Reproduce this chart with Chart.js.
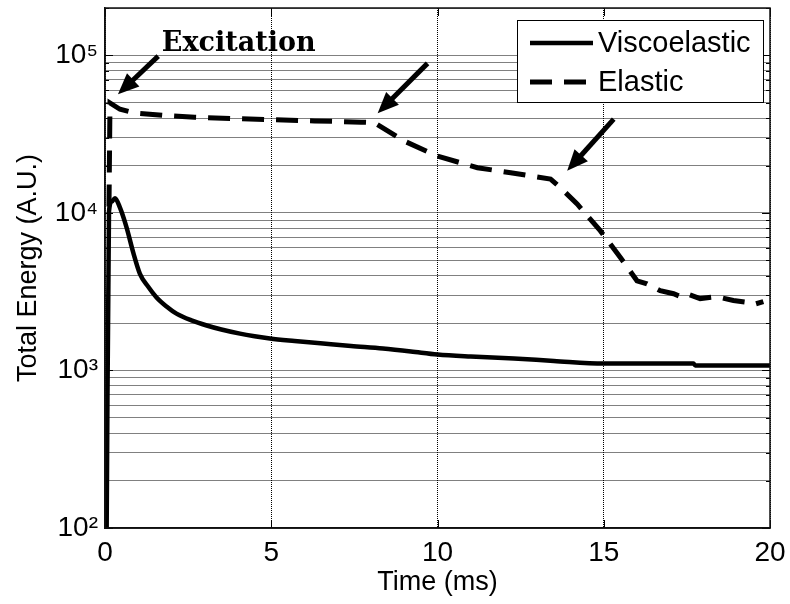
<!DOCTYPE html>
<html>
<head>
<meta charset="utf-8">
<title>Total Energy</title>
<script src="https://cdn.jsdelivr.net/npm/chart.js@4.4.1/dist/chart.umd.min.js"></script>
<style>
    html, body { margin: 0; padding: 0; background: #fff; }
</style>
</head>
<body>
<canvas id="energyChart" width="790" height="604"></canvas>
<script>
// values (time in ms, energy in arbitrary units)
const viscoTime = [0.05, 0.12, 0.2, 0.3, 0.45, 0.65, 0.85, 1.05, 1.3, 1.55, 1.85, 2.15, 2.6, 3.06, 3.5, 4.06, 4.5, 4.96, 5.7, 6.56, 7.4, 8.36, 9.2, 10, 11, 12.3, 13.5, 15, 16.5, 17.7, 17.75, 20];
const viscoEnergy = [100, 10200, 11800, 12400, 10800, 8070, 5600, 4110, 3400, 2910, 2550, 2296, 2080, 1930, 1820, 1713, 1650, 1597, 1540, 1483, 1430, 1377, 1320, 1262, 1225, 1191, 1150, 1107, 1107, 1107, 1076, 1076];

const elasticTime = [0.12, 0.15, 0.45, 0.9, 1.8, 2.7, 3.8, 4.9, 6.3, 7.7, 8.1, 9.0, 10.0, 11.2, 12.2, 13.4, 13.7, 14.2, 14.9, 15.5, 16.0, 16.3, 16.7, 17.1, 17.3, 17.5, 17.9, 18.4, 18.9, 19.3, 19.5, 19.8];
const elasticEnergy = [11000, 49900, 45500, 43100, 41500, 40500, 39800, 39200, 38400, 37700, 37400, 28600, 22960, 19370, 18000, 16400, 14450, 11400, 7690, 5210, 3710, 3550, 3210, 3070, 2950, 3070, 2860, 2940, 2780, 2710, 2620, 2740];

const seriesNames = ["Viscoelastic", "Elastic"];

const xTicks = [0, 5, 10, 15, 20];
const yDecades = [100, 1000, 10000, 100000];
const yDecadeLabels = ["10²", "10³", "10⁴", "10⁵"];
const yMin = 100;
const yMax = 200000;

// annotation arrows, in data space: [time, energy]
const arrowTails = [[1.6, 99000], [9.7, 89000], [15.3, 39400]];
const arrowTips = [[0.39, 56600], [8.2, 43000], [13.9, 18500]];
const excitationText = "Excitation";
const excitationAt = [1.71, 106000];

const FONT = "'Liberation Sans', Arial, sans-serif";

// every 1..9 x 10^k line, like the matlab log grid
const yGrid = [];
yDecades.forEach(d => {
    for (let m = 1; m <= 9; m++) {
        if (m * d <= yMax) yGrid.push(m * d);
    }
});
if (yGrid[yGrid.length - 1] < yMax) yGrid.push(yMax);

function toPoints(xs, ys) {
    return xs.map((x, i) => ({ x: x, y: ys[i] }));
}

const frameAndMarks = {
    id: "frameAndMarks",
    beforeDatasetsDraw(chart) {
        const { ctx, chartArea: a, scales } = chart;
        ctx.save();
        ctx.strokeStyle = "#000";
        ctx.lineWidth = 1;
        ctx.beginPath();
        yGrid.forEach(v => {
            const y = Math.round(scales.y.getPixelForValue(v)) + 0.5;
            const len = yDecades.includes(v) ? 8 : 4;
            ctx.moveTo(a.left, y); ctx.lineTo(a.left + len, y);
            ctx.moveTo(a.right, y); ctx.lineTo(a.right - len, y);
        });
        xTicks.forEach(v => {
            const x = Math.round(scales.x.getPixelForValue(v)) + 0.5;
            ctx.moveTo(x, a.bottom); ctx.lineTo(x, a.bottom - 8);
            ctx.moveTo(x, a.top); ctx.lineTo(x, a.top + 8);
        });
        ctx.stroke();
        ctx.restore();
    },
    afterDatasetsDraw(chart) {
        const { ctx, chartArea: a, scales } = chart;
        ctx.save();

        // arrows
        ctx.fillStyle = "#000";
        ctx.strokeStyle = "#000";
        ctx.lineWidth = 5;
        ctx.lineCap = "butt";
        arrowTails.forEach((t, i) => {
            const x0 = scales.x.getPixelForValue(t[0]);
            const y0 = scales.y.getPixelForValue(t[1]);
            const x1 = scales.x.getPixelForValue(arrowTips[i][0]);
            const y1 = scales.y.getPixelForValue(arrowTips[i][1]);
            const ang = Math.atan2(y1 - y0, x1 - x0);
            const head = 21, half = 9;
            const bx = x1 - head * Math.cos(ang);
            const by = y1 - head * Math.sin(ang);
            ctx.beginPath();
            ctx.moveTo(x0, y0);
            ctx.lineTo(bx + 2 * Math.cos(ang), by + 2 * Math.sin(ang));
            ctx.stroke();
            ctx.beginPath();
            ctx.moveTo(x1, y1);
            ctx.lineTo(bx + half * Math.sin(ang), by - half * Math.cos(ang));
            ctx.lineTo(bx - half * Math.sin(ang), by + half * Math.cos(ang));
            ctx.closePath();
            ctx.fill();
        });

        ctx.font = "bold 27px 'DejaVu Serif', 'Liberation Serif', serif";
        ctx.textAlign = "left";
        ctx.textBaseline = "alphabetic";
        ctx.fillText(excitationText,
            scales.x.getPixelForValue(excitationAt[0]),
            scales.y.getPixelForValue(excitationAt[1]));

        // legend box
        const bw = 246, bh = 82;
        const bx = a.right - 7 - bw, by = a.top + 12;
        ctx.fillStyle = "#fff";
        ctx.fillRect(bx, by, bw, bh);
        ctx.strokeStyle = "#000";
        ctx.lineWidth = 1;
        ctx.strokeRect(bx + 0.5, by + 0.5, bw, bh);
        ctx.font = "29px " + FONT;
        ctx.textBaseline = "middle";
        chart.data.datasets.forEach((ds, i) => {
            const ly = by + 23 + i * 39;
            ctx.save();
            ctx.strokeStyle = ds.borderColor;
            ctx.lineWidth = ds.borderWidth;
            ctx.setLineDash(ds.borderDash || []);
            ctx.beginPath();
            ctx.moveTo(bx + 13, ly);
            ctx.lineTo(bx + 76, ly);
            ctx.stroke();
            ctx.restore();
            ctx.fillStyle = "#000";
            ctx.fillText(ds.label, bx + 81, ly + 1);
        });

        // axes box
        ctx.strokeStyle = "#111";
        ctx.lineWidth = 1.5;
        ctx.strokeRect(a.left, a.top, a.right - a.left, a.bottom - a.top);
        ctx.restore();
    }
};

const chart = new Chart(document.getElementById("energyChart"), {
    type: "line",
    data: {
        datasets: [{
            label: seriesNames[0],
            data: toPoints(viscoTime, viscoEnergy),
            borderColor: "#000",
            borderWidth: 4.5,
            pointRadius: 0,
            cubicInterpolationMode: "monotone",
            fill: false
        }, {
            label: seriesNames[1],
            data: toPoints(elasticTime, elasticEnergy),
            borderColor: "#000",
            borderWidth: 5,
            borderDash: [22, 12],
            pointRadius: 0,
            tension: 0,
            fill: false
        }]
    },
    options: {
        responsive: false,
        animation: false,
        devicePixelRatio: 1,
        layout: { padding: { top: 8, right: 20, left: 0, bottom: 0 } },
        plugins: {
            legend: { display: false },
            tooltip: { enabled: false }
        },
        scales: {
            x: {
                type: "linear",
                min: 0,
                max: 20,
                afterBuildTicks: (scale) => { scale.ticks = xTicks.map(v => ({ value: v })); },
                afterFit: (scale) => {
                    scale.height = 76;
                    scale.paddingLeft = 0;
                    scale.paddingRight = 0;
                },
                grid: {
                    color: "#000",
                    lineWidth: 1,
                    drawTicks: false,
                    tickLength: 0
                },
                border: { display: true, color: "#111", width: 1.5, dash: [1, 1] },
                ticks: {
                    color: "#000",
                    padding: 8,
                    maxRotation: 0,
                    font: { family: FONT, size: 28 }
                },
                title: {
                    display: true,
                    text: "Time (ms)",
                    color: "#000",
                    font: { family: FONT, size: 27 },
                    padding: { top: 0, bottom: 5 }
                }
            },
            y: {
                type: "logarithmic",
                min: yMin,
                max: yMax,
                afterBuildTicks: (scale) => { scale.ticks = yGrid.map(v => ({ value: v })); },
                afterFit: (scale) => {
                    scale.width = 105;
                    scale.paddingTop = 0;
                    scale.paddingBottom = 0;
                },
                grid: {
                    color: "#000",
                    lineWidth: 1,
                    drawTicks: false,
                    tickLength: 0
                },
                border: { display: true, color: "#111", width: 1.5, dash: [1, 1] },
                ticks: {
                    color: "#000",
                    padding: 7,
                    autoSkip: false,
                    font: { family: FONT, size: 28 },
                    callback: (value) => {
                        const k = yDecades.indexOf(value);
                        return k >= 0 ? yDecadeLabels[k] : "";
                    }
                },
                title: {
                    display: true,
                    text: "Total Energy (A.U.)",
                    color: "#000",
                    font: { family: FONT, size: 27 },
                    padding: { top: 12, bottom: 0 }
                }
            }
        }
    },
    plugins: [frameAndMarks]
});
</script>
</body>
</html>
